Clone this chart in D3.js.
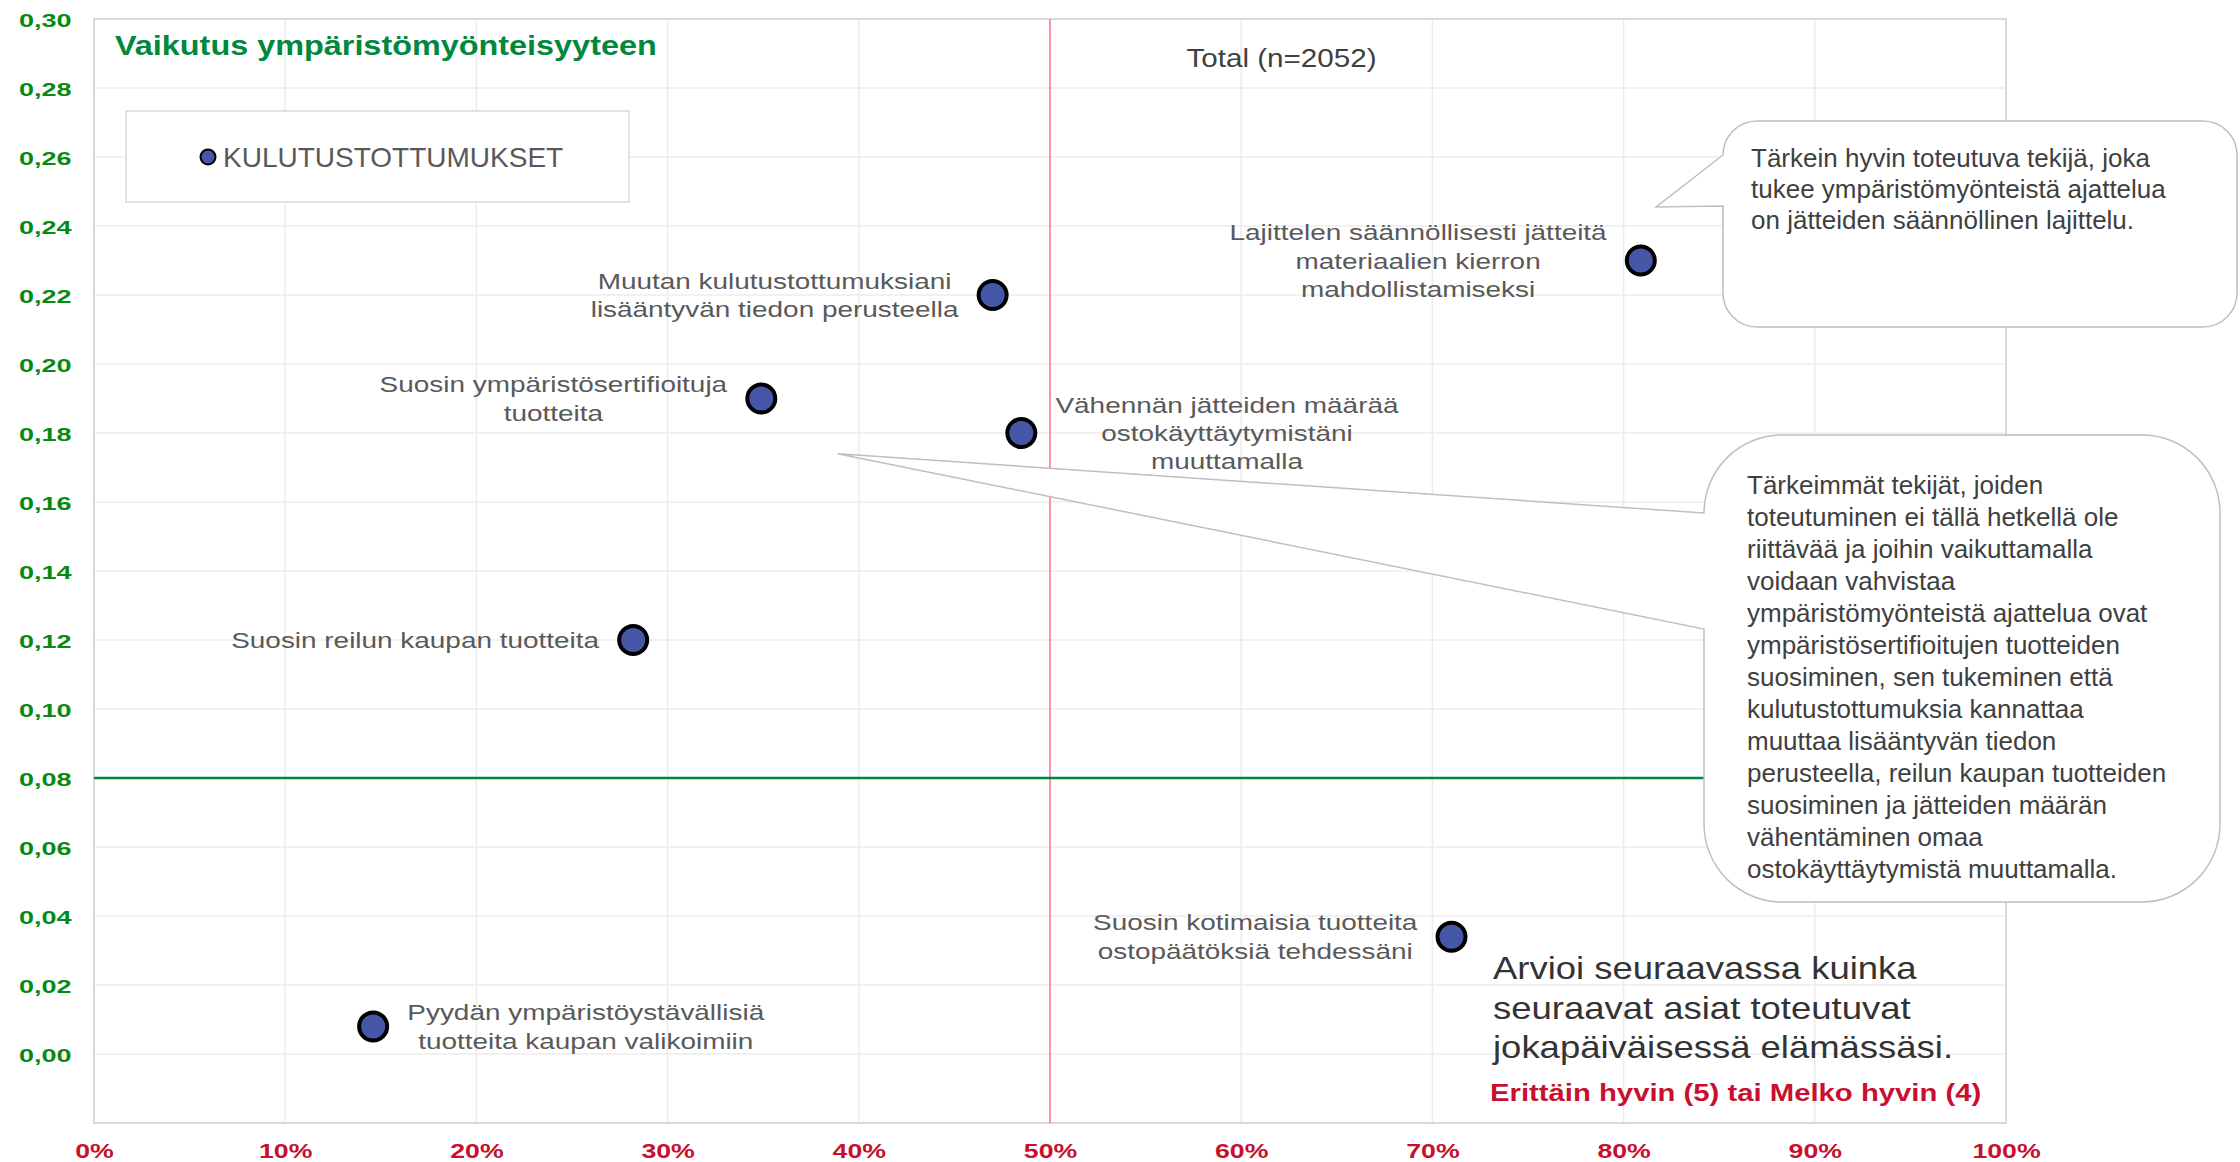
<!DOCTYPE html>
<meta charset="utf-8">
<style>
body{margin:0;background:white}
text{font-family:"Liberation Sans",Arial,sans-serif}
</style>
<svg width="2240" height="1162"></svg>
<script src="https://d3js.org/d3.v7.min.js"></script>
<script>

// values
var names = [
  "Pyydän ympäristöystävällisiä\ntuotteita kaupan valikoimiin",
  "Suosin reilun kaupan tuotteita",
  "Suosin ympäristösertifioituja\ntuotteita",
  "Muutan kulutustottumuksiani\nlisääntyvän tiedon perusteella",
  "Vähennän jätteiden määrää\nostokäyttäytymistäni\nmuuttamalla",
  "Suosin kotimaisia tuotteita\nostopäätöksiä tehdessäni",
  "Lajittelen säännöllisesti jätteitä\nmateriaalien kierron\nmahdollistamiseksi"
];
var realised = [0.146, 0.282, 0.349, 0.470, 0.485, 0.710, 0.809];  // Erittäin hyvin (5) tai Melko hyvin (4)
var impact   = [0.008, 0.120, 0.190, 0.220, 0.180, 0.034, 0.230];  // Vaikutus ympäristömyönteisyyteen

var xTicks = [0, 0.1, 0.2, 0.3, 0.4, 0.5, 0.6, 0.7, 0.8, 0.9, 1];
var yTicks = [0, 0.02, 0.04, 0.06, 0.08, 0.10, 0.12, 0.14, 0.16, 0.18, 0.20, 0.22, 0.24, 0.26, 0.28, 0.30];
var xRef = 0.5, yRef = 0.08;

var seriesName = "KULUTUSTOTTUMUKSET";
var note1 = [
  "Tärkein hyvin toteutuva tekijä, joka",
  "tukee ympäristömyönteistä ajattelua",
  "on jätteiden säännöllinen lajittelu."
];
var note2 = [
  "Tärkeimmät tekijät, joiden",
  "toteutuminen ei tällä hetkellä ole",
  "riittävää ja joihin vaikuttamalla",
  "voidaan vahvistaa",
  "ympäristömyönteistä ajattelua ovat",
  "ympäristösertifioitujen tuotteiden",
  "suosiminen, sen tukeminen että",
  "kulutustottumuksia kannattaa",
  "muuttaa lisääntyvän tiedon",
  "perusteella, reilun kaupan tuotteiden",
  "suosiminen ja jätteiden määrän",
  "vähentäminen omaa",
  "ostokäyttäytymistä muuttamalla."
];
var question = [
  "Arvioi seuraavassa kuinka",
  "seuraavat asiat toteutuvat",
  "jokapäiväisessä elämässäsi."
];

</script>
<script>

var svg = d3.select("svg");

var x = d3.scaleLinear().domain([0, 1]).range([94, 2006]);
var y = d3.scaleLinear().domain([-0.02, 0.30]).range([1123, 19]);

var fi = d3.formatLocale({decimal: ",", thousands: " ", grouping: [3], currency: ["", "€"]});

// text in the original is drawn a bit wider than normal, so scale it in x
function textBlock(parent, lines, size, weight, fill, anchor, lh) {
  var g = parent.append("g")
      .attr("font-size", size)
      .attr("font-weight", weight)
      .attr("fill", fill)
      .attr("text-anchor", anchor);
  g.selectAll("text").data(lines).join("text")
      .attr("y", function(d, i) { return i * lh; })
      .text(function(d) { return d; });
  return g;
}

// grid
svg.append("g").selectAll("line").data(xTicks).join("line")
    .attr("x1", x).attr("x2", x)
    .attr("y1", y(0.30)).attr("y2", y(-0.02))
    .attr("stroke", "#ececec").attr("stroke-width", 1.5);
svg.append("g").selectAll("line").data(yTicks).join("line")
    .attr("x1", x(0)).attr("x2", x(1))
    .attr("y1", y).attr("y2", y)
    .attr("stroke", "#ececec").attr("stroke-width", 1.5);

svg.append("rect")
    .attr("x", x(0)).attr("y", y(0.30))
    .attr("width", x(1) - x(0)).attr("height", y(-0.02) - y(0.30))
    .attr("fill", "none").attr("stroke", "#d9d9d9").attr("stroke-width", 2);

// reference lines
svg.append("line")
    .attr("x1", x(xRef)).attr("x2", x(xRef))
    .attr("y1", y(0.30)).attr("y2", y(-0.02))
    .attr("stroke", "#ff7484").attr("stroke-width", 1.5);
svg.append("line")
    .attr("x1", x(0)).attr("x2", x(1))
    .attr("y1", y(yRef)).attr("y2", y(yRef))
    .attr("stroke", "#00873c").attr("stroke-width", 2.5);

// axes (labels only)
var yAxis = svg.append("g")
    .attr("transform", "translate(" + x(0) + ",0)")
    .call(d3.axisLeft(y).tickValues(yTicks).tickSize(0).tickFormat(fi.format(".2f")));
yAxis.select(".domain").remove();
yAxis.selectAll("text")
    .attr("x", -15).attr("dy", "0.42em")
    .attr("transform", "scale(1.5,1)")
    .attr("font-family", "Liberation Sans, Arial, sans-serif")
    .attr("font-size", 18).attr("font-weight", "bold")
    .attr("fill", "#078a14");

var xAxis = svg.append("g")
    .attr("transform", "translate(0," + y(-0.02) + ")")
    .call(d3.axisBottom(x).tickValues(xTicks).tickSize(0).tickFormat(d3.format(".0%")));
xAxis.select(".domain").remove();
xAxis.selectAll("text")
    .attr("y", 35).attr("dy", 0)
    .attr("transform", "scale(1.27,1)")
    .attr("font-family", "Liberation Sans, Arial, sans-serif")
    .attr("font-size", 21).attr("font-weight", "bold")
    .attr("fill", "#c8102e");

// callouts: rounded box with a wedge on the left side
function calloutPath(x0, y0, x1, y1, r, wTop, wBot, tx, ty) {
  return "M" + (x0 + r) + "," + y0 +
    "H" + (x1 - r) + "A" + r + "," + r + " 0 0 1 " + x1 + "," + (y0 + r) +
    "V" + (y1 - r) + "A" + r + "," + r + " 0 0 1 " + (x1 - r) + "," + y1 +
    "H" + (x0 + r) + "A" + r + "," + r + " 0 0 1 " + x0 + "," + (y1 - r) +
    "V" + wBot + "L" + tx + "," + ty + "L" + x0 + "," + wTop +
    "V" + (y0 + r) + "A" + r + "," + r + " 0 0 1 " + (x0 + r) + "," + y0 + "Z";
}

svg.append("path")
    .attr("d", calloutPath(1723, 121, 2237, 327, 34, 155, 206, x(0.817), y(0.2455)))
    .attr("fill", "white").attr("stroke", "#bfbfbf").attr("stroke-width", 1.5);
svg.append("path")
    .attr("d", calloutPath(1704, 435, 2220, 902, 78, 513, 629, x(0.389), y(0.174)))
    .attr("fill", "white").attr("stroke", "#bfbfbf").attr("stroke-width", 1.5);

textBlock(svg, note1, 26, "normal", "#404040", "start", 31)
    .attr("transform", "translate(1751,166.5)");
textBlock(svg, note2, 26, "normal", "#404040", "start", 32)
    .attr("transform", "translate(1747,494)");

// points
svg.append("g").selectAll("circle").data(names).join("circle")
    .attr("cx", function(d, i) { return x(realised[i]); })
    .attr("cy", function(d, i) { return y(impact[i]); })
    .attr("r", 14)
    .attr("fill", "#4757a8")
    .attr("stroke", "black").attr("stroke-width", 4);

// point labels, lines centred, block left or right of the point
var labelSide = ["right", "left", "left", "left", "right", "left", "left"];
var k = 1.27, lh = 28.5;
names.forEach(function(name, i) {
  var lines = name.split("\n");
  var g = textBlock(svg, lines, 22, "normal", "#595959", "middle", lh);
  g.selectAll("text").attr("y", function(d, j) { return (j - (lines.length - 1) / 2) * lh + 8; });
  var w = d3.max(g.selectAll("text").nodes(), function(n) { return n.getComputedTextLength(); }) * k;
  var px = x(realised[i]), py = y(impact[i]);
  var cx = labelSide[i] == "left" ? px - 34 - w / 2 : px + 34 + w / 2;
  g.attr("transform", "translate(" + cx + "," + py + ") scale(" + k + ",1)");
});

// title, legend, other texts
textBlock(svg, ["Vaikutus ympäristömyönteisyyteen"], 28, "bold", "#00883c", "start", 0)
    .attr("transform", "translate(115,55) scale(1.157,1)");

svg.append("rect")
    .attr("x", 126).attr("y", 111).attr("width", 503).attr("height", 91)
    .attr("fill", "white").attr("stroke", "#d9d9d9").attr("stroke-width", 1.5);
svg.append("circle")
    .attr("cx", 208).attr("cy", 157).attr("r", 7.5)
    .attr("fill", "#4757a8").attr("stroke", "black").attr("stroke-width", 2);
svg.append("text")
    .attr("x", 223).attr("y", 167)
    .attr("font-size", 28).attr("fill", "#595959")
    .text(seriesName);

textBlock(svg, ["Total (n=2052)"], 26, "normal", "#404040", "middle", 0)
    .attr("transform", "translate(1281.5,67) scale(1.14,1)");

textBlock(svg, question, 32, "normal", "#333333", "start", 39.6)
    .attr("transform", "translate(1493,979.3) scale(1.14,1)");

textBlock(svg, ["Erittäin hyvin (5) tai Melko hyvin (4)"], 24, "bold", "#c8102e", "start", 0)
    .attr("transform", "translate(1490,1100.7) scale(1.22,1)");

</script>
